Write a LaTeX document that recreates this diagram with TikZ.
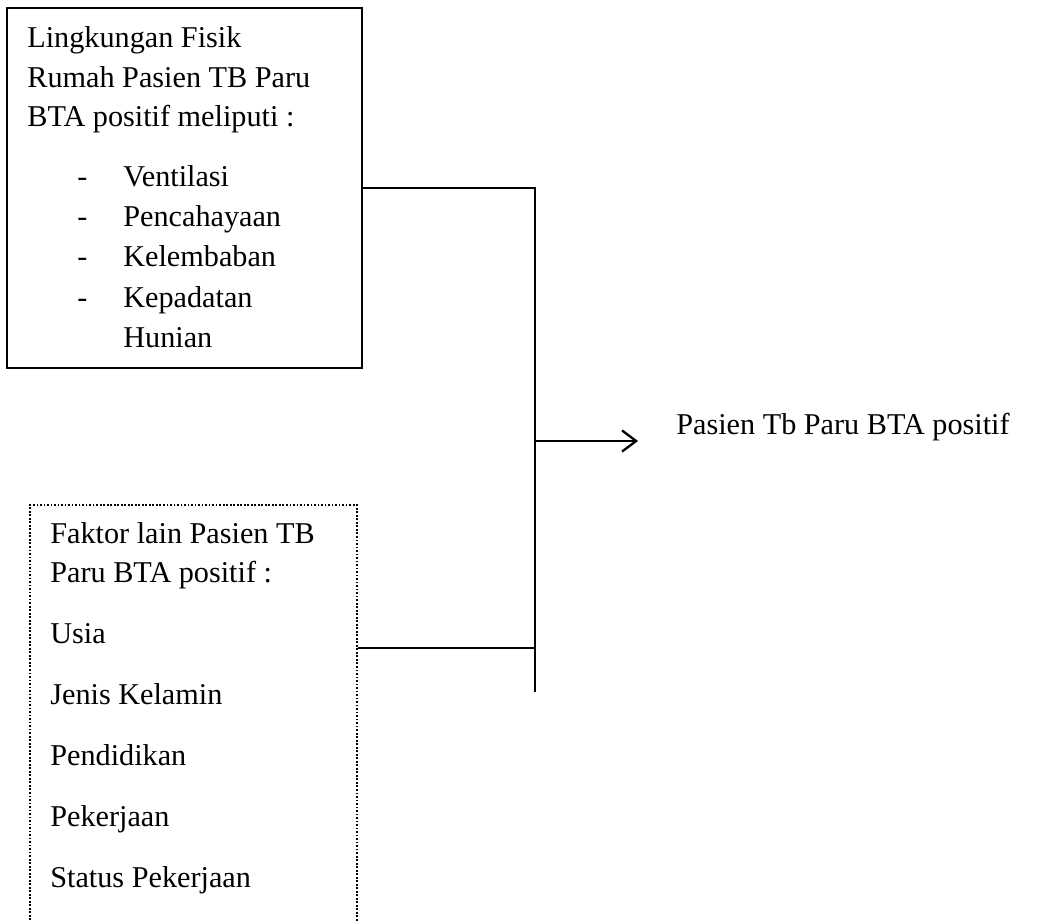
\documentclass[tikz,border=0pt]{standalone}
\usepackage{fontspec}
\setmainfont{Liberation Serif}
\usetikzlibrary{arrows.meta}
\begin{document}
\begin{tikzpicture}[x=0.02cm, y=-0.02cm, font=\fontsize{17.2}{20}\selectfont,
    box/.style={draw, line width=1.3pt, inner sep=0pt},
    dotbox/.style={draw, line width=1.2pt, dash pattern=on 1pt off 1pt, inner sep=0pt},
    txt/.style={anchor=base west, inner sep=0pt},
    link/.style={line width=1.3pt},
    >={Straight Barb[length=8pt, width=12pt, line width=1.3pt]}]
        \useasboundingbox (0,0) rectangle (1048,922);
        \clip (0,0) rectangle (1048,922);

        % Lingkungan fisik rumah
        \node[box, minimum width=7.1cm, minimum height=7.2cm] (fisik) at (184.5,188) {};
        \node[txt] (f1) at (27,48) {Lingkungan Fisik};
        \node[txt] (f2) at (27,88) {Rumah Pasien TB Paru};
        \node[txt] (f3) at (27,127) {BTA positif meliputi :};
        \foreach \item [count=\i] in {Ventilasi, Pencahayaan, Kelembaban, Kepadatan} {
            \node[txt] (dash\i) at (77, 187+40*\i-40) {-};
            \node[txt] (item\i) at (123, 187+40*\i-40) {\item};
        }
        \node[txt] (item5) at (123,347) {Hunian};

        % Faktor lain (box runs past the bottom)
        \node[dotbox, minimum width=6.54cm, minimum height=10cm] (faktor) at (193.5,755) {};
        \node[txt] (k1) at (50,543) {Faktor lain Pasien TB};
        \node[txt] (k2) at (50,582) {Paru BTA positif :};
        \foreach \item [count=\i] in {Usia, Jenis Kelamin, Pendidikan, Pekerjaan, Status Pekerjaan}
            \node[txt] (lain\i) at (50, 643+61.2*\i-61.2) {\item};

        % Hasil
        \node[txt] (pasien) at (676,434) {Pasien Tb Paru BTA positif};

        % Connectors
        \coordinate (top) at (535,188);
        \coordinate (bottom) at (535,692);
        \coordinate (low) at (535,648);
        \coordinate (mid) at (535,441);
        \coordinate (tip) at (638,441);
        \draw[link] (fisik.east) -- (top) -- (bottom);
        \draw[link] (faktor.east |- low) -- (low);
        \draw[link, ->] (mid) -- (tip);

    \end{tikzpicture}
\end{document}
